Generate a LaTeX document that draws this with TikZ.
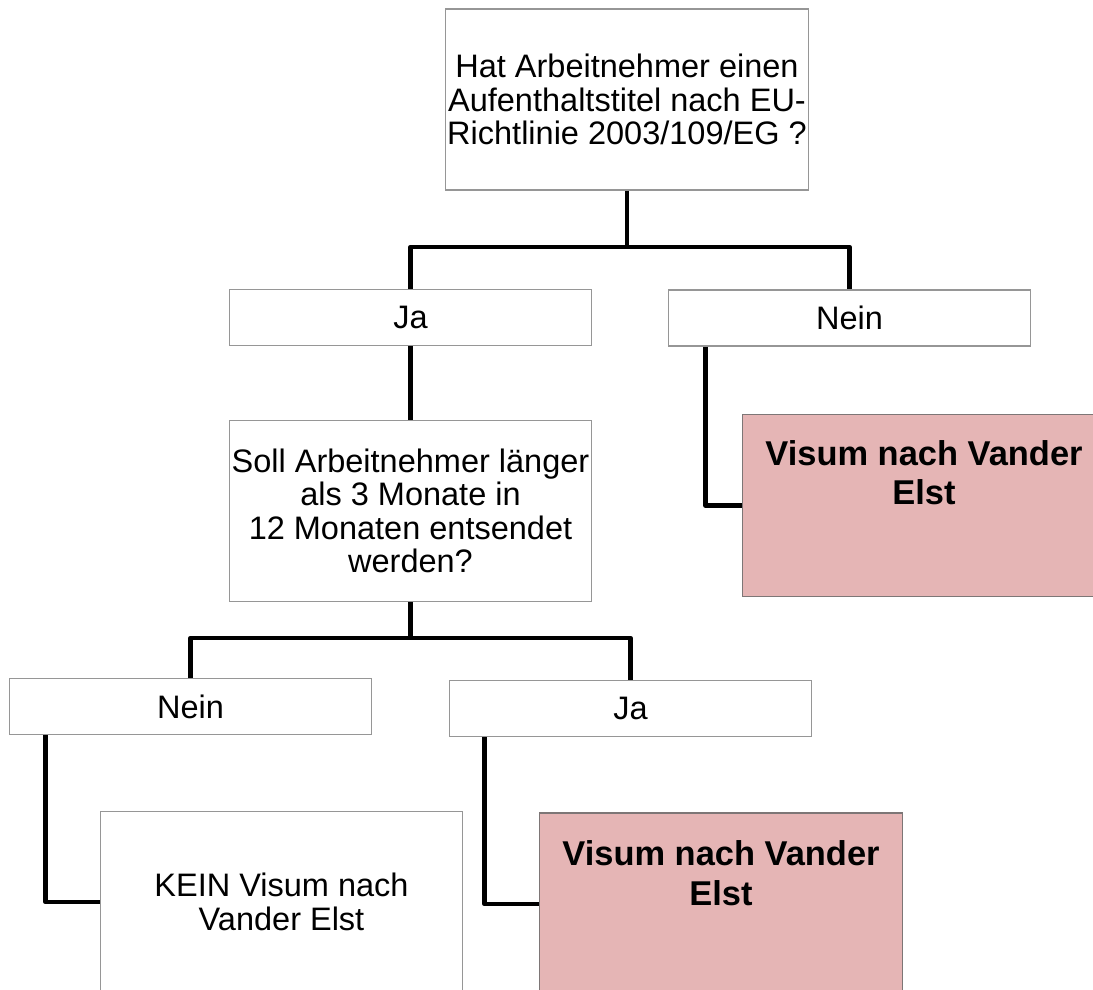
\documentclass[tikz,border=0pt]{standalone}
\usepackage{fontspec}
\setmainfont{Liberation Sans}
\usetikzlibrary{positioning}
\definecolor{boxline}{RGB}{150,150,150}
\definecolor{resfill}{RGB}{229,181,181}
\definecolor{resline}{RGB}{125,118,118}
\tikzset{
  qbox/.style={draw=boxline, line width=0.6pt, fill=white, minimum width=7.26cm, minimum height=3.62cm, align=center, inner sep=0pt, font=\fontsize{18.5}{19}\selectfont},
  abox/.style={qbox, minimum height=1.12cm},
  rbox/.style={draw=resline, line width=0.6pt, fill=resfill, minimum width=7.28cm, minimum height=3.64cm, inner sep=0pt},
  rtext/.style={align=center, inner sep=0pt, font=\bfseries\fontsize{19.6}{22.5}\selectfont},
  link/.style={line width=2.6pt, line join=round}
}
\begin{document}
\begin{tikzpicture}[x=0.02cm,y=-0.02cm]
\useasboundingbox (0,0) rectangle (1093,990);
\clip (0,0) rectangle (1093,990);

\node[qbox] (frage) at (627,99.5) {Hat Arbeitnehmer einen\\Aufenthaltstitel nach EU-\\Richtlinie 2003/109/EG ?};
\node[abox] (jaA) at (410.5,317.5) {Ja};
\node[abox] (neinA) at (849.5,318) {Nein};
\node[qbox] (frageB) at (410.5,511) {Soll Arbeitnehmer länger\\als 3 Monate in\\12 Monaten entsendet\\werden?};
\node[rbox] (visumA) at (924,505.5) {};
\node[rtext, below=0.52cm of visumA.north] (visumAtxt) {Visum nach Vander\\Elst};

\node[abox] (neinB) at (190.5,706.5) {Nein};
\node[abox] (jaB) at (630.5,708.5) {Ja};
\node[qbox] (kein) at (281.5,902) {KEIN Visum nach\\Vander Elst};
\node[rbox] (visumB) at (721,904) {};
\node[rtext, below=0.56cm of visumB.north] (visumBtxt) {Visum nach Vander\\Elst};

\coordinate (gabelA) at (627,247);
\coordinate (gabelB) at (410.5,638);
\draw[link] (frage.south) -- (gabelA);
\draw[link] (jaA.north) |- (gabelA) -| (neinA.north);
\draw[link] (jaA.south) -- (frageB.north);
\draw[link] (neinA.south west) ++(38,0) |- (visumA.west);

\draw[link] (frageB.south) -- (gabelB);
\draw[link] (neinB.north) |- (gabelB) -| (jaB.north);
\draw[link] (neinB.south west) ++(37,0) |- (kein.west);
\draw[link] (jaB.south west) ++(36,0) |- (visumB.west);
\end{tikzpicture}
\end{document}
